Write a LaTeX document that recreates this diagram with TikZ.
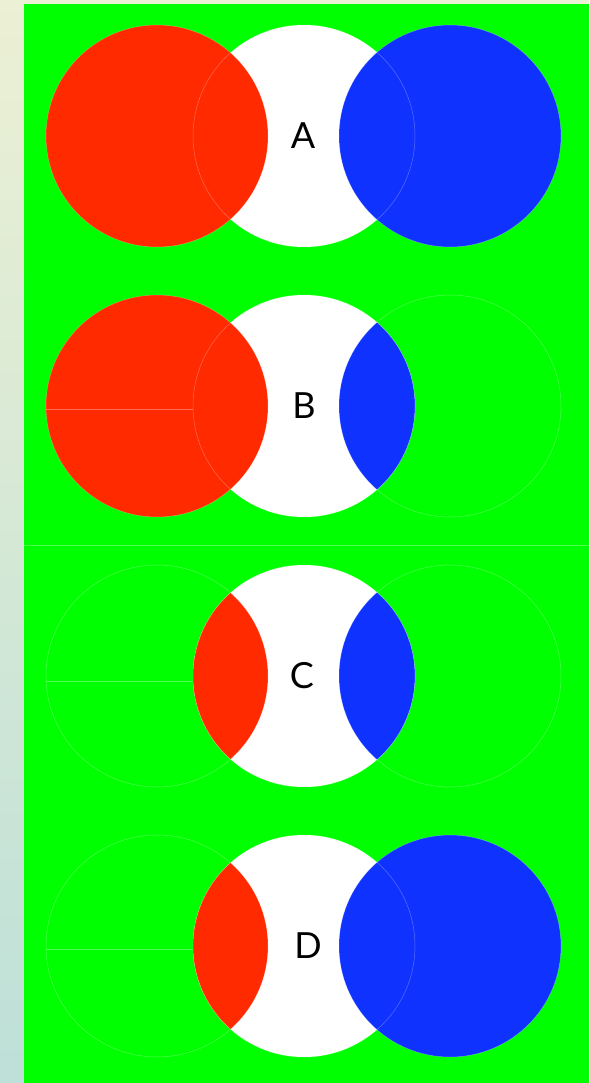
\documentclass[tikz,border=0pt]{standalone}
\usepackage{fontspec}
\setmainfont{Lato}
\definecolor{bgreen}{RGB}{0,255,0}
\definecolor{cred}{RGB}{255,42,0}
\definecolor{cblue}{RGB}{16,50,255}
\definecolor{stripTop}{RGB}{236,240,212}
\definecolor{stripBot}{RGB}{190,224,216}
\tikzset{
  faint/.style={draw=white, draw opacity=0.3, line width=0.5pt},
  lbl/.style={font=\fontsize{36}{36}\selectfont, text=black, inner sep=0pt}
}
\begin{document}
\begin{tikzpicture}[x=1pt,y=-1pt]
\useasboundingbox (0,0) rectangle (589,1083);
\fill[stripTop] (0,0) rectangle (589,4);
\shade[top color=stripTop, bottom color=stripBot] (0,0) rectangle (24,1083);
\fill[bgreen] (24,4) rectangle (589,1083);
\draw[faint] (24,545) -- (589,545);
% ---------- Panel A
\begin{scope}[shift={(0,136)}]
  \coordinate (La) at (157,0); \coordinate (Ma) at (304,0); \coordinate (Ra) at (450,0);
  \fill[white] (Ma) circle[radius=111pt];
  \fill[cred] (La) circle[radius=111pt];
  \fill[cblue] (Ra) circle[radius=111pt];
  \draw[faint] (La) circle[radius=111pt];
  \draw[faint] (Ma) circle[radius=111pt];
  \draw[faint] (Ra) circle[radius=111pt];
  \node[lbl] (A) at (303,0) {A};
\end{scope}
% ---------- Panel B
\begin{scope}[shift={(0,406)}]
  \coordinate (Lb) at (157,0); \coordinate (Mb) at (304,0); \coordinate (Rb) at (450,0);
  \fill[white] (Mb) circle[radius=111pt];
  \fill[cred] (Lb) circle[radius=111pt];
  \begin{scope}
    \clip (Mb) circle[radius=111pt];
    \fill[cblue] (Rb) circle[radius=111pt];
  \end{scope}
  \coordinate (Lbw) at (46,3); \coordinate (Lbe) at (193,3);
  \draw[faint] (Lbw) -- (Lbe);
  \draw[faint] (Lb) circle[radius=111pt];
  \draw[faint] (Mb) circle[radius=111pt];
  \draw[faint] (Rb) circle[radius=111pt];
  \node[lbl] (B) at (304,0) {B};
\end{scope}
% ---------- Panel C
\begin{scope}[shift={(0,676)}]
  \coordinate (Lc) at (157,0); \coordinate (Mc) at (304,0); \coordinate (Rc) at (450,0);
  \fill[white] (Mc) circle[radius=111pt];
  \begin{scope}
    \clip (Mc) circle[radius=111pt];
    \fill[cred] (Lc) circle[radius=111pt];
    \fill[cblue] (Rc) circle[radius=111pt];
  \end{scope}
  \coordinate (Lcw) at (46,5); \coordinate (Lce) at (193,5);
  \draw[faint] (Lcw) -- (Lce);
  \draw[faint] (Lc) circle[radius=111pt];
  \draw[faint] (Mc) circle[radius=111pt];
  \draw[faint] (Rc) circle[radius=111pt];
  \node[lbl] (C) at (302,0) {C};
\end{scope}
% ---------- Panel D
\begin{scope}[shift={(0,946)}]
  \coordinate (Ld) at (157,0); \coordinate (Md) at (304,0); \coordinate (Rd) at (450,0);
  \fill[white] (Md) circle[radius=111pt];
  \begin{scope}
    \clip (Md) circle[radius=111pt];
    \fill[cred] (Ld) circle[radius=111pt];
  \end{scope}
  \fill[cblue] (Rd) circle[radius=111pt];
  \coordinate (Ldw) at (46,3); \coordinate (Lde) at (193,3);
  \draw[faint] (Ldw) -- (Lde);
  \draw[faint] (Ld) circle[radius=111pt];
  \draw[faint] (Md) circle[radius=111pt];
  \draw[faint] (Rd) circle[radius=111pt];
  \node[lbl] (D) at (308,0) {D};
\end{scope}
\end{tikzpicture}
\end{document}
